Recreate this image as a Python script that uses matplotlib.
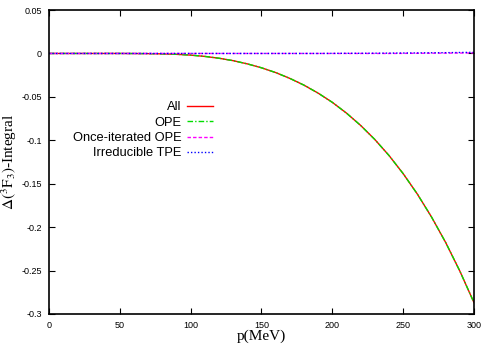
import matplotlib
matplotlib.use("Agg")
import matplotlib.pyplot as plt
from matplotlib.ticker import FixedLocator, FuncFormatter

# Momentum grid (MeV) and partial-wave integral contributions
p = [0, 10, 20, 30, 40, 50, 60, 70, 80, 90, 100, 110, 120, 130, 140, 150,
     160, 170, 180, 190, 200, 210, 220, 230, 240, 250, 260, 270, 280, 290, 300]
all_contrib = [0.0, 0.0, 0.0, 0.0, 0.0, 0.0, -0.0001, -0.0002, -0.0005, -0.0010,
               -0.0019, -0.0034, -0.0055, -0.0083, -0.0120, -0.0165,
               -0.0220, -0.0287, -0.0365, -0.0457, -0.0563, -0.0687, -0.0829,
               -0.0991, -0.1175, -0.1384, -0.1619, -0.1883, -0.2177, -0.2506, -0.2870]
ope = list(all_contrib)
once_iterated = [0.0] * 25 + [0.0001, 0.0002, 0.0003, 0.0004, 0.0005, 0.0006]
irreducible_tpe = [0.0] * 20 + [0.0001, 0.0002, 0.0002, 0.0003, 0.0004, 0.0005,
                                0.0006, 0.0008, 0.0009, 0.0011, 0.0013]

xticks = [0, 50, 100, 150, 200, 250, 300]
yticks = [0.05, 0, -0.05, -0.1, -0.15, -0.2, -0.25, -0.3]

plt.rcParams["mathtext.fontset"] = "stix"

fig = plt.figure(figsize=(4.83, 3.45), dpi=100)
ax = fig.add_axes([0.1014, 0.0899, 0.88, 0.881])

ax.plot(p, all_contrib, color="#ff0000", lw=1.0, label="All")
ax.plot(p, ope, color="#00dd00", lw=1.0, ls=(0, (4, 1.5, 1, 1.5)), label="OPE")
ax.plot(p, once_iterated, color="#ff00ff", lw=1.0, ls=(0, (2.5, 1.5)),
        label="Once-iterated OPE")
ax.plot(p, irreducible_tpe, color="#0000ff", lw=1.0, ls=(0, (1, 1.5)),
        label="Irreducible TPE")

ax.set_xlim(0, 300)
ax.set_ylim(-0.3, 0.05)
ax.xaxis.set_major_locator(FixedLocator(xticks))
ax.yaxis.set_major_locator(FixedLocator(yticks))


def fmt(v, pos):
    return "%g" % round(v, 4)


ax.xaxis.set_major_formatter(FuncFormatter(fmt))
ax.yaxis.set_major_formatter(FuncFormatter(fmt))

ax.tick_params(direction="in", top=True, right=True, length=4, width=0.8,
               labelsize=6.5, pad=5)
for lab in ax.get_xticklabels() + ax.get_yticklabels():
    lab.set_family("Liberation Sans")
for s in ax.spines.values():
    s.set_linewidth(1.2)

ax.set_xlabel("p(MeV)", family="Liberation Serif", fontsize=11, labelpad=0)
ax.set_ylabel(r"$\Delta(^{3}\mathrm{F}_{3})$-Integral", family="Liberation Serif",
              fontsize=11, labelpad=2)

leg = ax.legend(loc="upper right", bbox_to_anchor=(0.386, 0.70),
                markerfirst=False, frameon=False, handlelength=2.0,
                handletextpad=0.43, labelspacing=0.26, borderpad=0,
                borderaxespad=0,
                prop={"family": "Liberation Sans", "size": 9.3})

fig.savefig("out.png", dpi=100)
